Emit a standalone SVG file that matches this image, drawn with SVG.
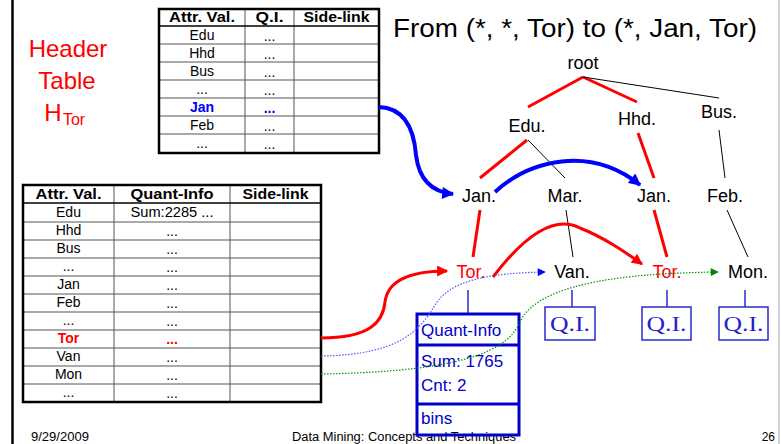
<svg xmlns="http://www.w3.org/2000/svg" width="781" height="444" viewBox="0 0 781 444">
<defs>
<style>
text{font-family:"Liberation Sans",Arial,sans-serif;}
.hd{font-size:24px;fill:#ff0000;text-anchor:middle;}
.th{font-size:14px;font-weight:bold;text-anchor:middle;fill:#000;}
.td{font-size:14px;text-anchor:middle;fill:#000;}
.tree{font-size:18px;text-anchor:middle;fill:#000;}
.redt{fill:#ff0000;}
.ft{font-size:12px;fill:#000;}
.qi{font-family:"Liberation Serif","Times New Roman",serif;font-size:21px;fill:#2222cc;text-anchor:middle;}
.box{font-size:17px;fill:#0000cc;}
.outer{fill:none;stroke:#000;stroke-width:2.5;}
.inner{stroke:#555;stroke-width:1;}
.rl{stroke:#ff0000;stroke-width:3;fill:none;}
.bl{stroke:#000;stroke-width:1;fill:none;}
.qbox{fill:none;stroke:#2a2ad0;stroke-width:1.5;}
</style>
<marker id="ab" viewBox="0 0 10 10" refX="9" refY="5" markerWidth="14" markerHeight="12" markerUnits="userSpaceOnUse" orient="auto"><path d="M0,0 L10,5 L0,10 z" fill="#0000ff"/></marker>
<marker id="ar" viewBox="0 0 10 10" refX="9" refY="5" markerWidth="13" markerHeight="11" markerUnits="userSpaceOnUse" orient="auto"><path d="M0,0 L10,5 L0,10 z" fill="#ff0000"/></marker>
<marker id="adb" viewBox="0 0 10 10" refX="9" refY="5" markerWidth="9" markerHeight="8" markerUnits="userSpaceOnUse" orient="auto"><path d="M0,0 L10,5 L0,10 z" fill="#0000ff"/></marker>
<marker id="adg" viewBox="0 0 10 10" refX="9" refY="5" markerWidth="9" markerHeight="8" markerUnits="userSpaceOnUse" orient="auto"><path d="M0,0 L10,5 L0,10 z" fill="#008800"/></marker>
</defs>
<rect x="0" y="0" width="781" height="444" fill="#fff"/>
<line x1="12.5" y1="0" x2="12.5" y2="444" stroke="#000" stroke-width="2.5"/>
<line x1="779" y1="0" x2="779" y2="444" stroke="#aaa" stroke-width="1"/>

<g id="header-label">
<text class="hd" x="68" y="57">Header</text>
<text class="hd" x="67" y="89">Table</text>
<text class="hd" x="53" y="121">H</text>
<text x="74" y="125" style="font-size:16px;fill:#ff0000;text-anchor:middle">Tor</text>
</g>

<g id="title"><text x="575" y="37" style="font-size:26px;text-anchor:middle;fill:#000" textLength="364" lengthAdjust="spacingAndGlyphs">From (*, *, Tor) to (*, Jan, Tor)</text></g>

<g id="footer">
<text class="ft" x="31" y="441" textLength="58" lengthAdjust="spacingAndGlyphs">9/29/2009</text>
<text class="ft" x="404" y="441" text-anchor="middle" textLength="224" lengthAdjust="spacingAndGlyphs">Data Mining: Concepts and Techniques</text>
<text class="ft" x="775" y="441" text-anchor="end">26</text>
</g>

<g id="table-htor">
<g class="inner">
<line x1="245" y1="9" x2="245" y2="153"/>
<line x1="294" y1="9" x2="294" y2="153"/>
<line x1="159" y1="44" x2="379" y2="44"/>
<line x1="159" y1="62" x2="379" y2="62"/>
<line x1="159" y1="80" x2="379" y2="80"/>
<line x1="159" y1="98" x2="379" y2="98"/>
<line x1="159" y1="116" x2="379" y2="116"/>
<line x1="159" y1="134" x2="379" y2="134"/>
</g>
<line x1="159" y1="26" x2="379" y2="26" stroke="#000" stroke-width="1.5"/>
<rect class="outer" x="159" y="9" width="220" height="144"/>
<text class="th" x="202" y="22" textLength="66" lengthAdjust="spacingAndGlyphs">Attr. Val.</text>
<text class="th" x="269.5" y="22" textLength="28" lengthAdjust="spacingAndGlyphs">Q.I.</text>
<text class="th" x="336.5" y="22" textLength="66" lengthAdjust="spacingAndGlyphs">Side-link</text>
<text class="td" x="202" y="40">Edu</text><text class="td" x="269.5" y="41">...</text>
<text class="td" x="202" y="58">Hhd</text><text class="td" x="269.5" y="59">...</text>
<text class="td" x="202" y="76">Bus</text><text class="td" x="269.5" y="77">...</text>
<text class="td" x="202" y="94">...</text><text class="td" x="269.5" y="95">...</text>
<text class="th" x="202" y="112" style="fill:#0000ff">Jan</text><text class="th" x="269.5" y="113" style="fill:#0000ff">...</text>
<text class="td" x="202" y="130">Feb</text><text class="td" x="269.5" y="131">...</text>
<text class="td" x="202" y="148">...</text><text class="td" x="269.5" y="149">...</text>
</g>

<g id="table-main">
<g class="inner">
<line x1="114" y1="185" x2="114" y2="402"/>
<line x1="230" y1="185" x2="230" y2="402"/>
<line x1="23" y1="222" x2="321" y2="222"/>
<line x1="23" y1="240" x2="321" y2="240"/>
<line x1="23" y1="258" x2="321" y2="258"/>
<line x1="23" y1="276" x2="321" y2="276"/>
<line x1="23" y1="294" x2="321" y2="294"/>
<line x1="23" y1="312" x2="321" y2="312"/>
<line x1="23" y1="330" x2="321" y2="330"/>
<line x1="23" y1="348" x2="321" y2="348"/>
<line x1="23" y1="366" x2="321" y2="366"/>
<line x1="23" y1="384" x2="321" y2="384"/>
</g>
<line x1="23" y1="203" x2="321" y2="203" stroke="#000" stroke-width="1.5"/>
<rect class="outer" x="23" y="185" width="298" height="217"/>
<text class="th" x="68.5" y="199" textLength="66" lengthAdjust="spacingAndGlyphs">Attr. Val.</text>
<text class="th" x="172" y="199" textLength="83" lengthAdjust="spacingAndGlyphs">Quant-Info</text>
<text class="th" x="275.5" y="199" textLength="66" lengthAdjust="spacingAndGlyphs">Side-link</text>
<text class="td" x="68.5" y="217">Edu</text><text class="td" x="172" y="217" textLength="83" lengthAdjust="spacingAndGlyphs">Sum:2285 ...</text>
<text class="td" x="68.5" y="235">Hhd</text><text class="td" x="172" y="236">...</text>
<text class="td" x="68.5" y="253">Bus</text><text class="td" x="172" y="254">...</text>
<text class="td" x="68.5" y="271">...</text><text class="td" x="172" y="272">...</text>
<text class="td" x="68.5" y="289">Jan</text><text class="td" x="172" y="290">...</text>
<text class="td" x="68.5" y="307">Feb</text><text class="td" x="172" y="308">...</text>
<text class="td" x="68.5" y="325">...</text><text class="td" x="172" y="326">...</text>
<text class="th" x="68.5" y="343" style="fill:#ff0000">Tor</text><text class="th" x="172" y="344" style="fill:#ff0000">...</text>
<text class="td" x="68.5" y="361">Van</text><text class="td" x="172" y="362">...</text>
<text class="td" x="68.5" y="379">Mon</text><text class="td" x="172" y="380">...</text>
<text class="td" x="68.5" y="397">...</text><text class="td" x="172" y="398">...</text>
</g>

<g id="tree-edges">
<line class="rl" x1="583" y1="77" x2="528" y2="107"/>
<line class="rl" x1="583" y1="77" x2="637" y2="102"/>
<line class="bl" x1="583" y1="77" x2="719" y2="98"/>
<line class="rl" x1="527" y1="140" x2="480" y2="178"/>
<line class="bl" x1="528" y1="140" x2="565" y2="178"/>
<line class="rl" x1="638" y1="133" x2="654" y2="178"/>
<line class="bl" x1="719" y1="130" x2="725" y2="178"/>
<line class="rl" x1="480" y1="210" x2="473" y2="257"/>
<line class="bl" x1="566" y1="210" x2="573" y2="257"/>
<line class="rl" x1="654" y1="210" x2="667" y2="257"/>
<line class="bl" x1="727" y1="210" x2="748" y2="257"/>
<g stroke="#2a2ad0" stroke-width="1.5">
<line x1="468" y1="290" x2="468" y2="315"/>
<line x1="572" y1="290" x2="572" y2="307"/>
<line x1="667" y1="290" x2="667" y2="307"/>
<line x1="745" y1="290" x2="745" y2="307"/>
</g>
</g>

<g id="root"><text class="tree" x="583" y="69">root</text></g>
<g id="edu"><text class="tree" x="527" y="132">Edu.</text></g>
<g id="hhd"><text class="tree" x="637" y="125">Hhd.</text></g>
<g id="bus"><text class="tree" x="719" y="118">Bus.</text></g>
<g id="jan1"><text class="tree" x="479" y="202">Jan.</text></g>
<g id="mar"><text class="tree" x="565" y="202">Mar.</text></g>
<g id="jan2"><text class="tree" x="654" y="202">Jan.</text></g>
<g id="feb"><text class="tree" x="725" y="202">Feb.</text></g>
<g id="tor1"><text class="tree redt" x="471" y="278">Tor.</text></g>
<g id="van"><text class="tree" x="572" y="278">Van.</text></g>
<g id="tor2"><text class="tree redt" x="667" y="278">Tor.</text></g>
<g id="mon"><text class="tree" x="748" y="278">Mon.</text></g>

<g id="qi-van"><rect class="qbox" x="545" y="307" width="50" height="33"/><text class="qi" x="570" y="331" textLength="40" lengthAdjust="spacingAndGlyphs">Q.I.</text></g>
<g id="qi-tor2"><rect class="qbox" x="642" y="307" width="49" height="33"/><text class="qi" x="666.5" y="331" textLength="40" lengthAdjust="spacingAndGlyphs">Q.I.</text></g>
<g id="qi-mon"><rect class="qbox" x="719" y="307" width="49" height="33"/><text class="qi" x="743.5" y="331" textLength="40" lengthAdjust="spacingAndGlyphs">Q.I.</text></g>

<g id="quant-info">
<rect x="417" y="314" width="102" height="121" fill="none" stroke="#0000cc" stroke-width="3"/>
<line x1="417" y1="345" x2="519" y2="345" stroke="#0000cc" stroke-width="3"/>
<line x1="417" y1="404" x2="519" y2="404" stroke="#0000cc" stroke-width="3"/>
<text class="box" x="421" y="336">Quant-Info</text>
<text class="box" x="421" y="367">Sum: 1765</text>
<text class="box" x="421" y="391">Cnt: 2</text>
<text class="box" x="421" y="424">bins</text>
</g>

<g id="connectors">
<path d="M379,107 C405,108 414,130 416,155 C419,180 432,192 453,194" fill="none" stroke="#0000ff" stroke-width="4" marker-end="url(#ab)"/>
<path d="M495,192 C530,160 590,145 640,185" fill="none" stroke="#0000ff" stroke-width="4" marker-end="url(#ab)"/>
<path d="M321,338 C370,338 383,322 385,302 C388,278 415,271 447,271" fill="none" stroke="#ff0000" stroke-width="3" marker-end="url(#ar)"/>
<path d="M493,277 C525,235 555,215 580,228 C605,238 625,252 642,264" fill="none" stroke="#ff0000" stroke-width="3" marker-end="url(#ar)"/>
<path d="M321,356 C400,355 420,330 435,305 C450,280 490,273 545,272" fill="none" stroke="#5555ff" stroke-width="1.2" stroke-dasharray="1.5 1.5" marker-end="url(#adb)"/>
<path d="M321,374 C430,372 505,360 520,322 C540,278 650,273 718,272" fill="none" stroke="#009900" stroke-width="1.2" stroke-dasharray="1.5 1.5" marker-end="url(#adg)"/>
</g>
</svg>
